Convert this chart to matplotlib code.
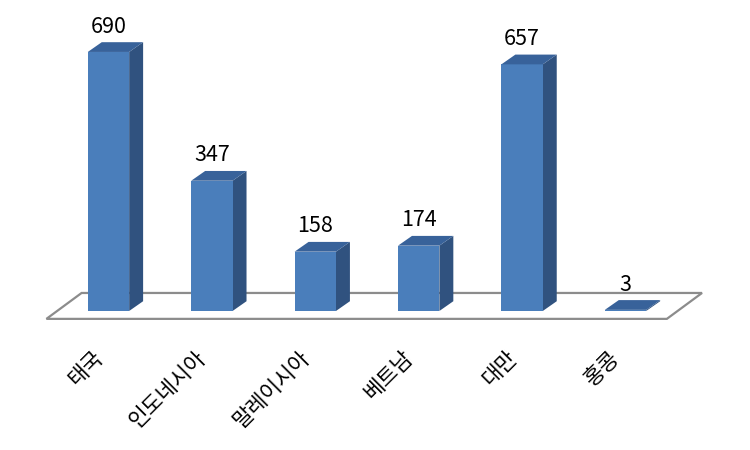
import matplotlib
matplotlib.use('Agg')
import matplotlib.pyplot as plt
from matplotlib.patches import Polygon

plt.rcParams['font.family'] = ['Noto Sans CJK KR', 'DejaVu Sans']

categories = ['태국', '인도네시아', '말레이시아', '베트남', '대만', '홍콩']
values = [690, 347, 158, 174, 657, 3]

front_color = '#4a7ebb'
side_color = '#30527f'
top_color = '#38629a'
floor_color = '#8c8c8c'

bar_w = 0.4
depth_x = 0.135
depth_y = 26

fig = plt.figure(figsize=(7.5, 4.5), dpi=100)
ax = fig.add_axes([0, 0, 1, 1])
ax.set_xlim(-1.049, 6.204)
ax.set_ylim(-370.3, 828.4)
ax.axis('off')

# floor of the 3d box
floor = [(-0.6, -21), (5.4, -21), (5.74, 48), (-0.26, 48)]
ax.add_patch(Polygon(floor, closed=True, fc='white', ec=floor_color, lw=1.6, zorder=1))

for i, v in enumerate(values):
    l = i - bar_w / 2
    r = i + bar_w / 2
    ax.add_patch(Polygon([(l, 0), (r, 0), (r, v), (l, v)], fc=front_color, ec='none', zorder=3))
    ax.add_patch(Polygon([(r, 0), (r + depth_x, depth_y), (r + depth_x, v + depth_y), (r, v)],
                         fc=side_color, ec='none', zorder=2))
    ax.add_patch(Polygon([(l, v), (r, v), (r + depth_x, v + depth_y), (l + depth_x, v + depth_y)],
                         fc=top_color, ec='none', zorder=4))
    ax.text(i, v + 38, str(v), ha='center', va='bottom', fontsize=15.5, color='black', zorder=5)
    ax.text(i - 0.16, -96, categories[i], rotation=45, rotation_mode='anchor',
            ha='right', va='top', fontsize=15.5, color='black')

fig.savefig('out.png', dpi=100)
